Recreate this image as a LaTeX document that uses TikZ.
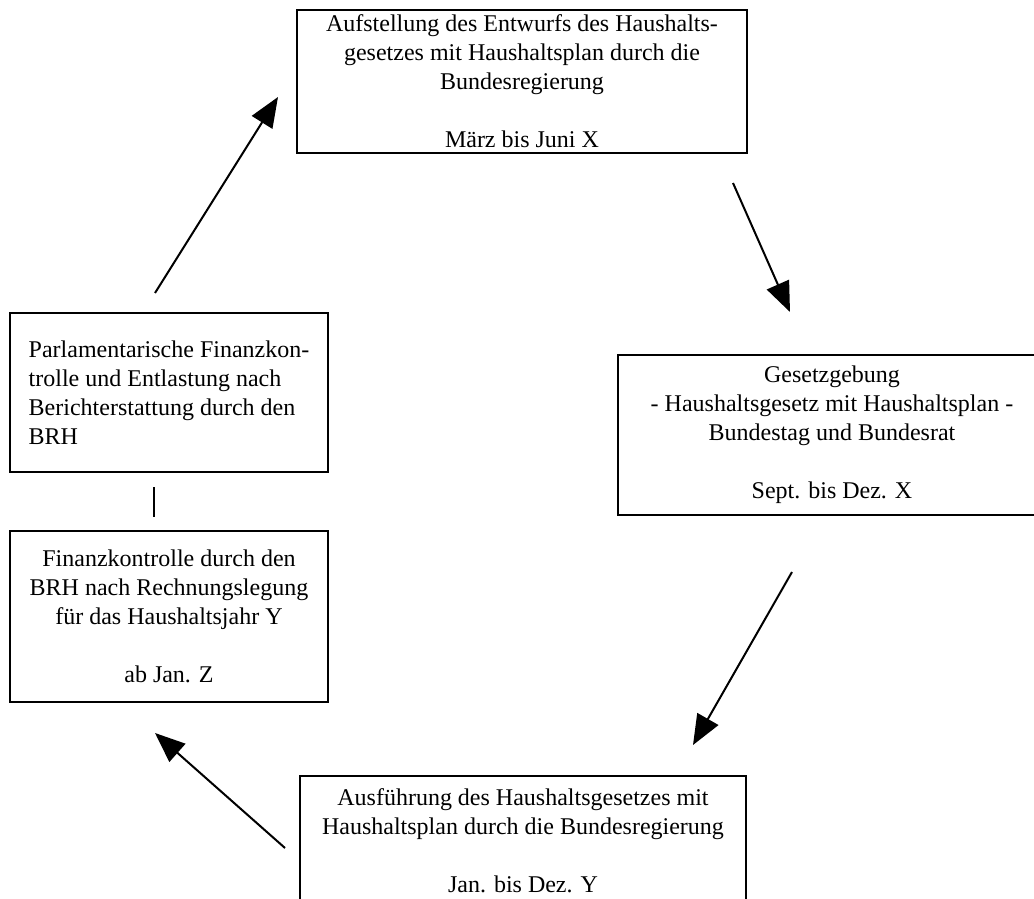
\documentclass[tikz,border=0pt]{standalone}
\usepackage{fontspec}
\setmainfont{Liberation Serif}
\usetikzlibrary{arrows.meta}
\begin{document}
\begin{tikzpicture}[x = 0.5pt, y = -0.5pt,
  box/.style = {draw, line width = 1.1pt, inner sep = 0pt, align = center,
    font = \fontsize{12}{14.5}\selectfont},
  pfeil/.style = {line width = 1pt, -{Triangle[length = 15pt, width = 12pt]}}]
  \path[use as bounding box, clip] (0,0) rectangle (1034,899);
  \node[box, minimum width = 225pt, minimum height = 71.5pt] (entwurf) at (522,81.5)
    {Aufstellung des Entwurfs des Haushalts-\\gesetzes mit Haushaltsplan durch die\\Bundesregierung\\[14.5pt]März bis Juni X};
  \node[box, minimum width = 214pt, minimum height = 80pt] (gesetz) at (832,435)
    {Gesetzgebung\\- Haushaltsgesetz mit Haushaltsplan -\\Bundestag und Bundesrat\\[14.5pt]Sept. bis Dez. X};
  \node[box, minimum width = 223pt, minimum height = 65pt] (ausfuehrung) at (523,841)
    {Ausführung des Haushaltsgesetzes mit\\Haushaltsplan durch die Bundesregierung\\[14.5pt]Jan. bis Dez. Y};
  \node[box, minimum width = 159pt, minimum height = 85.5pt] (kontrolle) at (169,616.5)
    {Finanzkontrolle durch den\\BRH nach Rechnungslegung\\für das Haushaltsjahr Y\\[14.5pt]ab Jan. Z};
  \node[box, align = left, minimum width = 159pt, minimum height = 79.5pt] (entlastung) at (169,392.5)
    {Parlamentarische Finanzkon-\\trolle und Entlastung nach\\Berichterstattung durch den\\BRH};
  % Pfeile
  \coordinate (p1a) at (155,293); \coordinate (p1b) at (278,97);
  \coordinate (p2a) at (733,183); \coordinate (p2b) at (790,312);
  \coordinate (p3a) at (792,572); \coordinate (p3b) at (693,745);
  \coordinate (p4a) at (285,848); \coordinate (p4b) at (155,733);
  \coordinate (s1) at (154,487); \coordinate (s2) at (154,517);
  \draw[pfeil] (p1a) -- (p1b);
  \draw[pfeil] (p2a) -- (p2b);
  \draw[pfeil] (p3a) -- (p3b);
  \draw[pfeil] (p4a) -- (p4b);
  \draw[line width = 1pt] (s1) -- (s2);
\end{tikzpicture}
\end{document}
